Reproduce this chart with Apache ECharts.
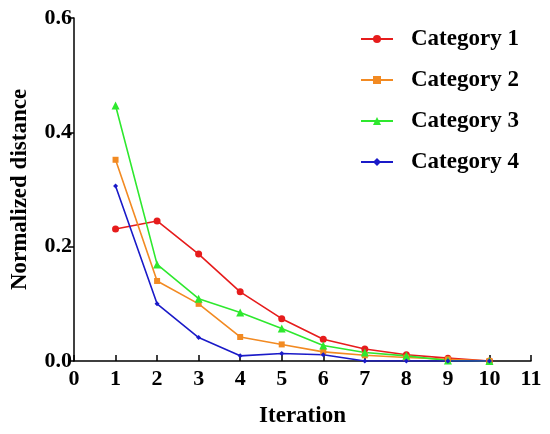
<!DOCTYPE html>
<html>
<head>
<meta charset="utf-8">
<script src="https://cdn.jsdelivr.net/npm/echarts@6/dist/echarts.min.js"></script>
<style>
  html, body { margin: 0; padding: 0; background: #fff; }
  #main { width: 550px; height: 434px; }
</style>
</head>
<body>
<div id="main"></div>
<script>
const iterations = [1, 2, 3, 4, 5, 6, 7, 8, 9, 10];
const category1 = [0.231, 0.245, 0.187, 0.121, 0.074, 0.038, 0.021, 0.011, 0.005, 0.000];
const category2 = [0.352, 0.140, 0.100, 0.042, 0.029, 0.016, 0.010, 0.006, 0.003, 0.000];
const category3 = [0.447, 0.169, 0.109, 0.085, 0.057, 0.027, 0.015, 0.009, 0.001, 0.000];
const category4 = [0.306, 0.100, 0.041, 0.009, 0.013, 0.011, 0.000, 0.000, 0.000, 0.000];
const seriesNames = ['Category 1', 'Category 2', 'Category 3', 'Category 4'];

const font = '"Liberation Serif", "DejaVu Serif", serif';
const chart = echarts.init(document.getElementById('main'), null, { renderer: 'canvas' });

function makeSeries(name, values, color, symbol, size) {
  return {
    name: name,
    type: 'line',
    data: iterations.map((x, i) => [x, values[i]]),
    symbol: symbol,
    symbolSize: size,
    lineStyle: { color: color, width: 1.6 },
    itemStyle: { color: color },
    emphasis: { disabled: true },
    animation: false
  };
}

const option = {
  backgroundColor: '#fff',
  grid: { left: 74, right: 19, top: 18, bottom: 73 },
  legend: {
    orient: 'vertical',
    left: 360,
    top: 27,
    padding: 0,
    itemWidth: 32,
    itemHeight: 10,
    itemGap: 17,
    data: seriesNames,
    textStyle: { fontFamily: font, fontWeight: 'bold', fontSize: 23, color: '#000', lineHeight: 24, padding: [0, 0, 0, 13] }
  },
  xAxis: {
    type: 'value',
    min: 0,
    max: 11,
    interval: 1,
    name: 'Iteration',
    nameLocation: 'middle',
    nameGap: 44,
    nameTextStyle: { fontFamily: font, fontWeight: 'bold', fontSize: 23, color: '#000' },
    splitLine: { show: false },
    axisLine: { lineStyle: { color: '#000', width: 1.5 } },
    axisTick: { inside: true, length: 6, lineStyle: { color: '#000', width: 1.5 } },
    axisLabel: { fontFamily: font, fontWeight: 'bold', fontSize: 22, color: '#000', margin: 7 }
  },
  yAxis: {
    type: 'value',
    min: 0,
    max: 0.6,
    interval: 0.2,
    name: 'Normalized distance',
    nameLocation: 'middle',
    nameGap: 42,
    nameTextStyle: { fontFamily: font, fontWeight: 'bold', fontSize: 23, color: '#000' },
    splitLine: { show: false },
    axisLine: { show: true, lineStyle: { color: '#000', width: 1.5 } },
    axisTick: { show: true, length: 6, lineStyle: { color: '#000', width: 1.5 } },
    axisLabel: {
      fontFamily: font, fontWeight: 'bold', fontSize: 22, color: '#000', margin: 2,
      formatter: v => v.toFixed(1)
    }
  },
  series: [
    makeSeries(seriesNames[0], category1, '#e61c1c', 'circle', 7),
    makeSeries(seriesNames[1], category2, '#f28a22', 'rect', 6),
    makeSeries(seriesNames[2], category3, '#2ee82e', 'triangle', 8),
    makeSeries(seriesNames[3], category4, '#1a1ac8', 'diamond', 5)
  ]
};

chart.setOption(option);
</script>
</body>
</html>
